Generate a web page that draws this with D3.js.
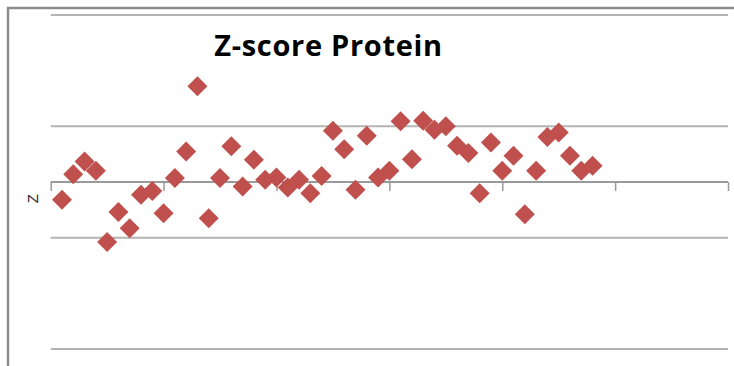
<!DOCTYPE html>
<html>
<head>
<meta charset="utf-8">
<script src="https://cdn.jsdelivr.net/npm/d3@7"></script>
<style>
  html, body { margin: 0; padding: 0; background: #fff; }
  svg { display: block; }
</style>
</head>
<body>
<svg id="chart" width="734" height="366"></svg>
<script>
// ---- Data ----
const title = "Z-score Protein";
const yLabel = "Z";
const xValues = d3.range(1, 49);
const zValues = [
  -0.32, 0.14, 0.37, 0.20, -1.08, -0.54, -0.83, -0.23, -0.16, -0.56,
  0.07, 0.55, 1.72, -0.65, 0.07, 0.64, -0.08, 0.40, 0.04, 0.08,
  -0.10, 0.04, -0.20, 0.11, 0.92, 0.59, -0.14, 0.83, 0.08, 0.20,
  1.09, 0.41, 1.10, 0.94, 1.00, 0.65, 0.52, -0.20, 0.71, 0.20,
  0.47, -0.58, 0.20, 0.81, 0.89, 0.47, 0.20, 0.29
];
const xTicks = [0, 10, 20, 30, 40, 50, 60];
const yGridValues = [-3, -1, 1, 3];

// ---- Layout ----
const svg = d3.select("#chart");
const W = 734, H = 366;
const plot = { left: 50.7, right: 728, top: 15, bottom: 349 };

const x = d3.scaleLinear().domain([0, 60]).range([plot.left, plot.right]);
const y = d3.scaleLinear().domain([-3, 3]).range([plot.bottom, plot.top]);

// outer chart frame (left & top visible)
svg.append("path")
  .attr("d", `M8,${H} L8,8 L${W},8`)
  .attr("fill", "none")
  .attr("stroke", "#8c8c8c")
  .attr("stroke-width", 2.5);

// horizontal gridlines
svg.append("g")
  .selectAll("line")
  .data(yGridValues)
  .join("line")
  .attr("x1", plot.left).attr("x2", plot.right)
  .attr("y1", d => y(d)).attr("y2", d => y(d))
  .attr("stroke", "#b4b4b4")
  .attr("stroke-width", 2);

// x axis at y = 0
const xAxis = d3.axisBottom(x)
  .tickValues(xTicks)
  .tickSize(9)
  .tickFormat("");
const gx = svg.append("g")
  .attr("transform", `translate(0,${y(0)})`)
  .call(xAxis);
gx.select(".domain")
  .attr("d", `M${plot.left},0H${plot.right}`)
  .attr("stroke", "#9a9a9a")
  .attr("stroke-width", 2);
gx.selectAll(".tick line")
  .attr("stroke", "#9a9a9a")
  .attr("stroke-width", 1.5);

// y axis title
svg.append("text")
  .attr("transform", `translate(38,${y(-0.3)}) rotate(-90)`)
  .attr("text-anchor", "middle")
  .attr("font-family", "'Liberation Sans', Arial, sans-serif")
  .attr("font-size", 15)
  .attr("fill", "#222")
  .text(yLabel);

// points (diamonds)
const r = 10;
svg.append("g")
  .selectAll("path")
  .data(xValues.map((d, i) => ({ x: d, z: zValues[i] })))
  .join("path")
  .attr("transform", d => `translate(${x(d.x)},${y(d.z)})`)
  .attr("d", `M0,${-r}L${r},0L0,${r}L${-r},0Z`)
  .attr("fill", "#c0504d");

// title
svg.append("text")
  .attr("x", 328.5)
  .attr("y", 56)
  .attr("text-anchor", "middle")
  .attr("font-family", "'Open Sans', 'Liberation Sans', sans-serif")
  .attr("font-weight", "bold")
  .attr("font-size", 29)
  .attr("letter-spacing", 0.7)
  .attr("fill", "#000")
  .text(title);
</script>
</body>
</html>
